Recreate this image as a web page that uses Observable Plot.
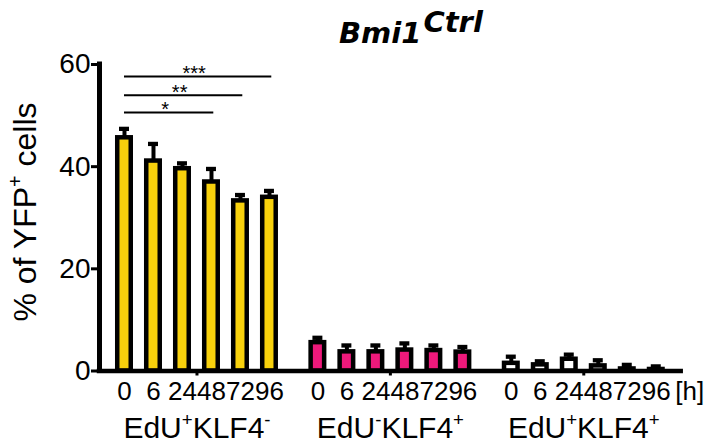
<!DOCTYPE html>
<html><head><meta charset="utf-8">
<script src="https://cdn.jsdelivr.net/npm/d3@7"></script>
<script src="https://cdn.jsdelivr.net/npm/@observablehq/plot@0.6"></script>
<style>
html,body{margin:0;padding:0;background:#fff;}
#chart{width:708px;height:448px;overflow:hidden;}
</style></head><body><div id="chart"></div>
<script>
// ---- data ----
const groups = ["EdU^+KLF4^-", "EdU^-KLF4^+", "EdU^+KLF4^+"];
const times = ["0", "6", "24", "48", "72", "96"];
const meansA = [45.65, 41.1, 39.6, 37.0, 33.3, 34.0];
const errA   = [1.75, 3.35, 1.05, 2.55, 1.15, 1.25];
const meansB = [5.55, 3.75, 3.75, 4.1, 4.0, 3.7];
const errB   = [0.95, 1.25, 1.25, 1.3, 1.0, 1.0];
const meansC = [1.5, 1.2, 2.3, 1.0, 0.4, 0.3];
const errC   = [1.3, 0.7, 0.9, 1.1, 0.8, 0.6];
const sigFrom = [0, 0, 0];
const sigTo = [3, 4, 5];
const sigY = [50.6, 54.0, 57.65];
const sigText = ["*", "**", "***"];
const yTicks = [0, 20, 40, 60];
const unitLabel = "[h]";
const yLabel = "% of YFP^+ cells";
const titleMain = "Bmi1";
const titleSup = "Ctrl";

// ---- styles / layout ----
const colors = ["#f8d10c", "#ee197b", "#ffffff"];
const GROUP_STEP = 6.67;
const BAR_HALF = 0.233;
const CAP_HALF = 0.172;
const X_MIN = -0.862, X_MAX = 19.2;
const FONT = "'Liberation Sans', Arial, Helvetica, sans-serif";

const meansAll = [meansA, meansB, meansC];
const errsAll = [errA, errB, errC];
const rows = groups.flatMap((name, g) => times.map((t, i) => ({
  g, t, pos: g * GROUP_STEP + i, mean: meansAll[g][i], err: errsAll[g][i]
})));
const groupRows = groups.map((label, g) => ({label, center: g * GROUP_STEP + (times.length - 1) / 2}));
const sigRows = sigText.map((s, k) => ({s, from: sigFrom[k], to: sigTo[k] + 0.08, y: sigY[k]}));
const lastPos = (groups.length - 1) * GROUP_STEP + times.length - 1;

const plot = Plot.plot({
  width: 708, height: 448,
  marginTop: 64, marginBottom: 77.5, marginLeft: 99, marginRight: 27.3,
  style: {fontFamily: FONT, background: "#fff", color: "#000", overflow: "visible"},
  x: {domain: [X_MIN, X_MAX]},
  y: {domain: [0, 60]},
  marks: [
    ...groups.map((_, g) => Plot.rect(rows.filter(r => r.g === g), {
      x1: r => r.pos - BAR_HALF, x2: r => r.pos + BAR_HALF, y1: 0, y2: "mean",
      fill: colors[g], stroke: "#000", strokeWidth: 4.5
    })),
    Plot.ruleX(rows, {x: "pos", y1: "mean", y2: r => r.mean + r.err, stroke: "#000", strokeWidth: 4}),
    Plot.ruleY(rows, {y: r => r.mean + r.err, x1: r => r.pos - CAP_HALF, x2: r => r.pos + CAP_HALF, stroke: "#000", strokeWidth: 4.3}),
    Plot.ruleY([0], {x1: X_MIN, x2: X_MAX, stroke: "#000", strokeWidth: 4.5, strokeLinecap: "square"}),
    Plot.ruleX([X_MIN], {y1: 0, y2: 60, stroke: "#000", strokeWidth: 5, strokeLinecap: "square"}),
    Plot.axisY({ticks: yTicks, tickSize: 8, tickPadding: 1, fontSize: 28, strokeWidth: 3, label: null}),
    Plot.axisX({ticks: groupRows.map(d => d.center), tickSize: 5, strokeWidth: 3, tickFormat: () => "", label: null}),
    Plot.text(rows, {x: "pos", text: "t", frameAnchor: "bottom", lineAnchor: "middle", dy: 20.5, fontSize: 26, fill: "#000"}),
    Plot.text([unitLabel], {x: [lastPos + 0.655], text: d => d, frameAnchor: "bottom", lineAnchor: "middle", dy: 20.5, textAnchor: "start", fontSize: 26, fill: "#000"}),
    Plot.text(groupRows, {x: "center", text: "label", frameAnchor: "bottom", lineAnchor: "middle", dy: 57.5, fontSize: 30, fill: "#000"}),
    Plot.ruleY(sigRows, {y: "y", x1: "from", x2: "to", stroke: "#000", strokeWidth: 2}),
    Plot.text(sigRows, {x: d => (d.from + d.to) / 2, y: "y", text: "s", dy: -2.5, dx: -4, fontSize: 20, fill: "#000"}),
    Plot.text([yLabel], {text: d => d, frameAnchor: "left", textAnchor: "middle", lineAnchor: "middle", dx: -74, dy: -5.75, rotate: -90, fontSize: 32, fill: "#000"})
  ]
});
document.getElementById("chart").appendChild(plot);

// superscript handling: "^x" marks a one-character superscript
function richify(el) {
  const s = el.textContent;
  if (!s.includes("^")) return;
  const fs = parseFloat(getComputedStyle(el).fontSize);
  const rise = 0.42 * fs;
  const parts = [];
  let buf = "";
  for (let i = 0; i < s.length; i++) {
    if (s[i] === "^" && i + 1 < s.length) {
      if (buf) parts.push({t: buf, sup: false});
      buf = "";
      parts.push({t: s[i + 1], sup: true});
      i++;
    } else buf += s[i];
  }
  if (buf) parts.push({t: buf, sup: false});
  el.textContent = "";
  let raised = false;
  const sel = d3.select(el);
  for (const p of parts) {
    const ts = sel.append("tspan").text(p.t);
    if (p.sup) {
      ts.attr("font-size", (0.62 * fs) + "px");
      if (!raised) ts.attr("dy", -rise);
      raised = true;
    } else {
      if (raised) ts.attr("dy", rise);
      raised = false;
    }
  }
}
d3.select(plot).selectAll("text").each(function () { richify(this); });

// title
const svg = d3.select(plot);
const tt = svg.append("text")
  .attr("x", 339).attr("y", 43)
  .attr("text-anchor", "start")
  .attr("font-family", "'DejaVu Sans', Verdana, sans-serif")
  .attr("font-weight", "bold").attr("font-style", "italic")
  .attr("font-size", 29).attr("fill", "#000");
tt.append("tspan").text(titleMain);
tt.append("tspan").attr("dy", -11).attr("dx", 2).text(titleSup);
</script>
</body></html>
